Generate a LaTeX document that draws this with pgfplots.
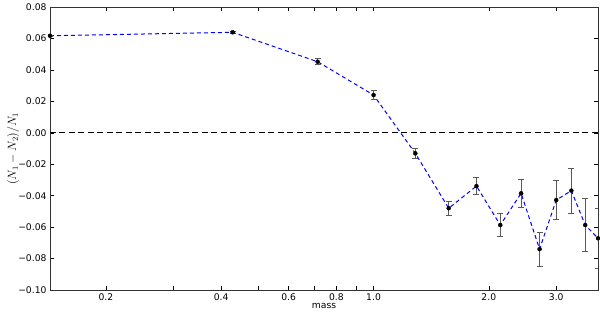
\documentclass[border=0pt]{standalone}
\usepackage{pgfplots}
\pgfplotsset{compat=1.18}
\usepackage{fontspec}
\setmainfont{DejaVu Sans}

\begin{document}
\begin{tikzpicture}
\begin{axis}[
  scale only axis, width=548pt, height=283pt,
  xmode=log, xmin=0.142857, xmax=3.857143,
  ymin=-0.10, ymax=0.08,
  xtick={0.2,0.3,0.4,0.5,0.6,0.7,0.8,0.9,1,2,3},
  xticklabels={0.2,,0.4,,0.6,,0.8,,1.0,2.0,3.0},
  minor xtick={},
  ytick={-0.10,-0.08,-0.06,-0.04,-0.02,0,0.02,0.04,0.06,0.08},
  yticklabels={−0.10,−0.08,−0.06,−0.04,−0.02,0.00,0.02,0.04,0.06,0.08},
  tick align=inside, major tick length=4pt,
  tick style={black, line width=0.5pt},
  axis line style={line width=0.8pt, black!80},
  ticklabel style={font=\fontsize{9.2}{11}\selectfont},
  xlabel={mass}, ylabel={$(N_1-N_2)/N_1$},
  xlabel style={font=\fontsize{9.2}{11}\selectfont, at={(axis description cs:0.5,0)}, anchor=center, yshift=-16pt},
  ylabel style={font=\fontsize{11.5}{13}\selectfont, at={(axis description cs:-0.0675,0.5)}, anchor=center},
]
% zero line
\addplot[black, line width=0.8pt, dash pattern=on 6pt off 3.5pt] coordinates {(0.142857,0) (3.857143,0)};
% connecting line
\addplot[blue, line width=1pt, dash pattern=on 4pt off 3pt] table[x=x, y=y] {
x y
0.142857 0.0617
0.428571 0.0639
0.714286 0.0452
1.000000 0.0240
1.285714 -0.0131
1.571429 -0.0480
1.857143 -0.0339
2.142857 -0.0587
2.428571 -0.0385
2.714286 -0.0740
3.000000 -0.0428
3.285714 -0.0368
3.571429 -0.0587
3.857143 -0.0671
};
% points with error bars
\addplot[only marks, mark=*, mark size=2pt, black,
  error bars/.cd, y dir=both, y explicit,
  error bar style={line width=0.8pt, black!65},
  error mark options={rotate=90, mark size=3pt, line width=0.8pt, black!65}]
  table[x=x, y=y, y error=e] {
x y e
0.142857 0.0617 0.0005
0.428571 0.0639 0.0007
0.714286 0.0452 0.0020
1.000000 0.0240 0.0029
1.285714 -0.0131 0.0030
1.571429 -0.0480 0.0043
1.857143 -0.0339 0.0056
2.142857 -0.0587 0.0074
2.428571 -0.0385 0.0089
2.714286 -0.0740 0.0107
3.000000 -0.0428 0.0125
3.285714 -0.0368 0.0144
3.571429 -0.0587 0.0167
3.857143 -0.0671 0.0190
};
\end{axis}
\pgfresetboundingbox
\path[use as bounding box] (-50pt,-21pt) rectangle (550pt,290pt);
\end{tikzpicture}
\end{document}
